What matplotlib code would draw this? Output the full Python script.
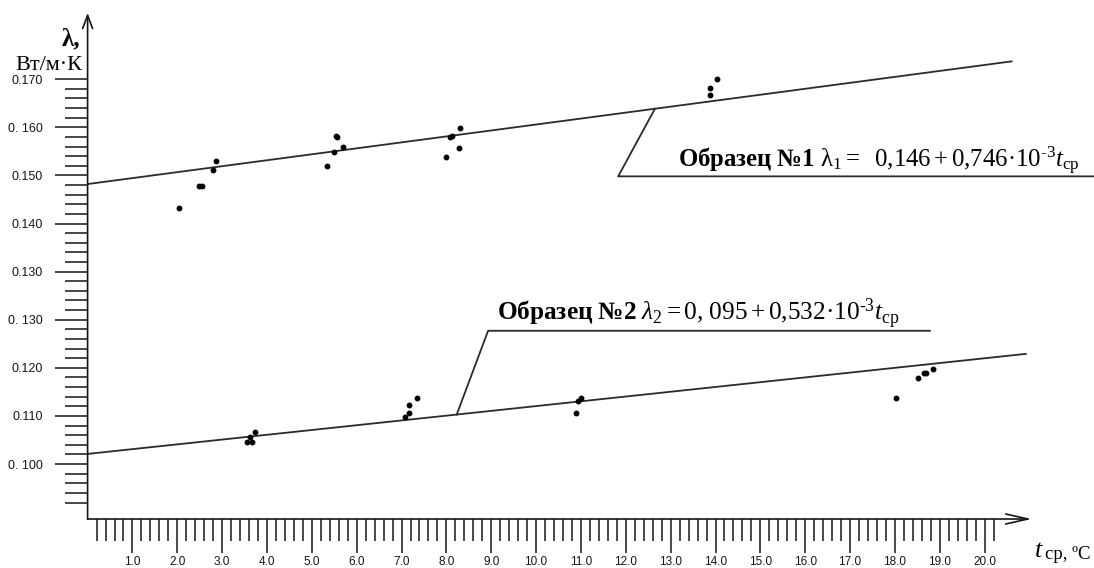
import numpy as np
import matplotlib
matplotlib.use("Agg")
import matplotlib.pyplot as plt

plt.rcParams['font.family'] = ['Liberation Sans', 'DejaVu Sans']
plt.rcParams['mathtext.fontset'] = 'custom'
plt.rcParams['mathtext.rm'] = 'Liberation Serif'
plt.rcParams['mathtext.it'] = 'Liberation Serif:italic'
plt.rcParams['mathtext.bf'] = 'Liberation Serif:bold'

# sample No1 measurements (t, lambda), read against the marks above the repeated 0.130
t_s1 = [2.04, 2.48, 2.55, 2.80, 2.86, 5.34, 5.50, 5.53, 5.57, 5.69,
        7.99, 8.07, 8.12, 8.28, 8.30, 13.88, 13.88, 14.04]
lam_s1 = [0.1432, 0.1478, 0.1478, 0.1511, 0.1529, 0.1519, 0.1548, 0.1581, 0.1579, 0.1558,
          0.1538, 0.1580, 0.1581, 0.1556, 0.1599, 0.1667, 0.1681, 0.1701]

# sample No2 measurements
t_s2 = [3.55, 3.62, 3.67, 3.73, 7.08, 7.17, 7.16, 7.35, 10.88, 10.93, 11.00,
        18.02, 18.51, 18.65, 18.69, 18.84]
lam_s2 = [0.1046, 0.1057, 0.1045, 0.1067, 0.1098, 0.1107, 0.1123, 0.1137, 0.1107, 0.1130, 0.1138,
          0.1138, 0.1179, 0.1189, 0.1189, 0.1198]

# fitted lines, start and end points
fit1_t = [0.0, 20.60]
fit1_lam = [0.1482, 0.1737]
fit2_t = [0.0, 20.92]
fit2_lam = [0.1021, 0.1229]

x_major = list(range(1, 21))
x_labels = [f"{v:.1f}" for v in x_major]
y_labels = ["0. 100", "0.110", "0.120", "0. 130", "0.130", "0.140", "0.150", "0. 160", "0.170"]

label1 = (r"$\mathbf{Образец\ №1}\ \mathrm{λ}_1 =\ \ 0{,}146 + 0{,}746·10^{\text{-}3}"
          r"t_{\mathrm{ср}}$")
label2 = (r"$\mathbf{Образец\ №2}\ \mathit{λ}_2 = 0{,}\ 095 + 0{,}532·10^{\text{-}3}"
          r"t_{\mathrm{ср}}$")

Y_BASE = 0.100
Y_STEP = 0.010
# the scale repeats 0.130, so sample 1 sits one step higher than its values
UPPER_SHIFT = 0.010

W, H = 1094, 568
fig = plt.figure(figsize=(W / 100, H / 100), dpi=100)
ax = fig.add_axes([87.6 / W, (H - 519) / H, (1031.7 - 87.6) / W, (519 - 13) / H])
ax.set_xlim(0, 21.05)
ax.set_ylim(0.08857, 0.19376)
for s in ax.spines.values():
    s.set_visible(False)

ink = '#151515'
# axes drawn as arrows
ax.annotate('', xy=(1, 0), xytext=(0, 0), xycoords='axes fraction',
            arrowprops=dict(arrowstyle='->,head_length=1.6,head_width=0.36',
                            lw=1.2, color=ink, mutation_scale=10, shrinkA=0, shrinkB=0))
ax.annotate('', xy=(0, 1), xytext=(0, 0), xycoords='axes fraction',
            arrowprops=dict(arrowstyle='->,head_length=0.95,head_width=0.36',
                            lw=1.2, color=ink, mutation_scale=10, shrinkA=0, shrinkB=0))

ax.set_xticks(x_major)
ax.set_xticklabels(x_labels)
ax.set_xticks([k / 5 for k in range(1, 102) if k % 5], minor=True)
ax.tick_params(axis='x', which='major', length=24.5, width=1.1, pad=2,
               labelsize=8.5, colors=ink, direction='out')
ax.tick_params(axis='x', which='minor', length=16, width=1.1, colors=ink, direction='out')

y_pos = [Y_BASE + Y_STEP * i for i in range(len(y_labels))]
ax.set_yticks(y_pos)
ax.set_yticklabels(y_labels)
ax.set_yticks([Y_BASE + 0.002 * k for k in range(-4, 40) if k % 5], minor=True)
ax.tick_params(axis='y', which='major', length=23.8, width=1.1, pad=8.6,
               labelsize=9, colors=ink, direction='out')
ax.tick_params(axis='y', which='minor', length=16.5, width=1.1, colors=ink, direction='out')

line_kw = dict(color='#2a2a2a', lw=1.3)
ax.plot(fit1_t, np.array(fit1_lam) + UPPER_SHIFT, **line_kw)
ax.plot(fit2_t, fit2_lam, **line_kw)
ax.plot(t_s1, np.array(lam_s1) + UPPER_SHIFT, 'o', ms=3.2, color='black', ls='none')
ax.plot(t_s2, lam_s2, 'o', ms=3.2, color='black', ls='none')

# leader lines to the equations
lead1 = np.interp(12.65, fit1_t, fit1_lam) + UPPER_SHIFT
ax.plot([12.65, 11.83, 22.44], [lead1, 0.1498 + UPPER_SHIFT, 0.1498 + UPPER_SHIFT],
        clip_on=False, **line_kw)
lead2 = np.interp(8.23, fit2_t, fit2_lam)
ax.plot([8.23, 8.93, 18.78], [lead2, 0.1277, 0.1277], clip_on=False, **line_kw)

ax.text(13.16, 0.1517 + UPPER_SHIFT, label1, fontsize=17.8, ha='left', va='baseline', color='black')
ax.text(9.13, 0.1299, label2, fontsize=18.2, ha='left', va='baseline', color='black')

# axis captions
fig.text(62 / W, 1 - 45 / H, "λ,", family='Liberation Serif', weight='bold',
         fontsize=18, va='baseline', color='black')
fig.text(15 / W, 1 - 70 / H, "Вт/м·К", family='Liberation Serif', fontsize=16,
         va='baseline', color='black')
fig.text(1035 / W, 1 - 557 / H, "t", family='Liberation Serif', style='italic',
         fontsize=19, va='baseline', color='black')
fig.text(1045 / W, 1 - 559 / H, "ср, ºC", family='Liberation Serif', fontsize=13.5,
         va='baseline', color='black')

fig.savefig("out.png", dpi=100, facecolor='white')
